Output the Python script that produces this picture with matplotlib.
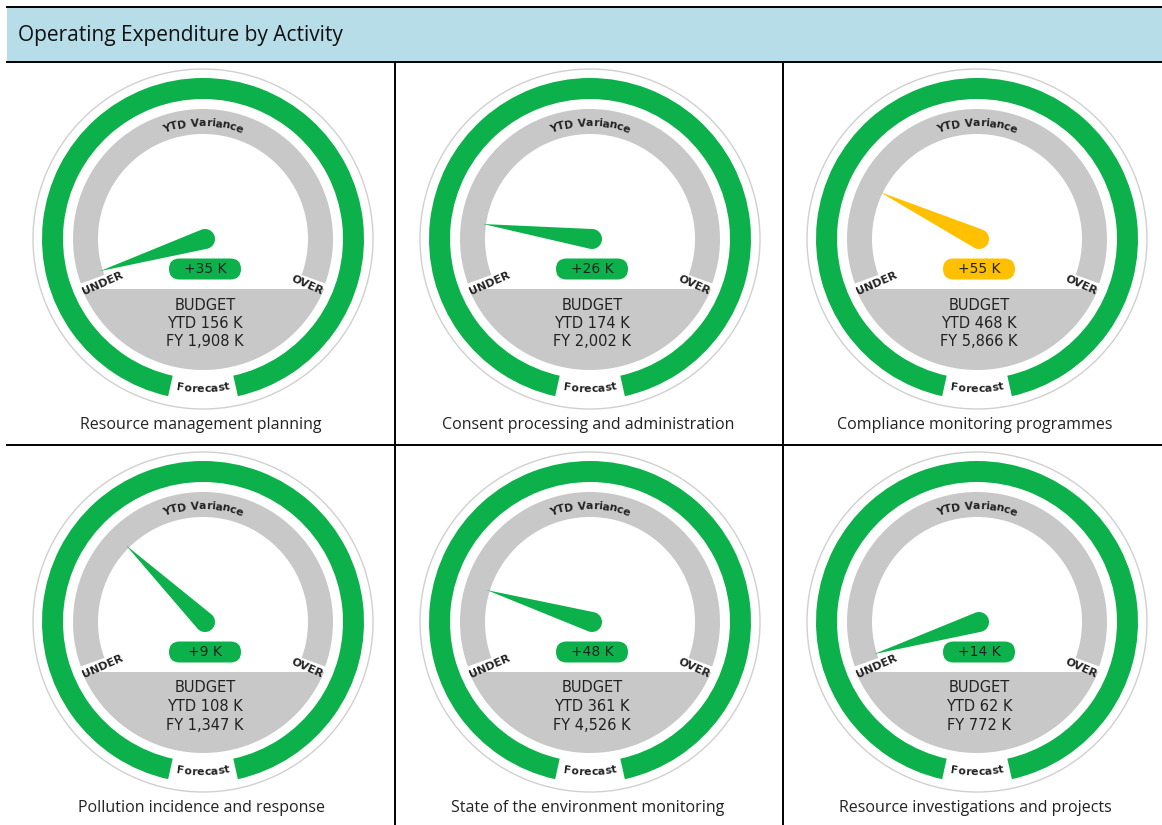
import numpy as np
import matplotlib
matplotlib.use("Agg")
import matplotlib.pyplot as plt
from matplotlib.patches import Wedge, Circle, Polygon, FancyBboxPatch, Rectangle
from matplotlib.font_manager import FontProperties, findfont, get_font

# data
title = "Operating Expenditure by Activity"
activities = [
    "Resource management planning",
    "Consent processing and administration",
    "Compliance monitoring programmes",
    "Pollution incidence and response",
    "State of the environment monitoring",
    "Resource investigations and projects",
]
variance_k = [35, 26, 55, 9, 48, 14]          # YTD variance, +ve = under budget
ytd_budget_k = [156, 174, 468, 108, 361, 62]
fy_budget_k = [1908, 2002, 5866, 1347, 4526, 772]
variance_status = ["ok", "ok", "warn", "ok", "ok", "ok"]
forecast_status = ["ok", "ok", "ok", "ok", "ok", "ok"]

W, H = 1162, 825
GREEN = "#0DB14B"
AMBER = "#FFC000"
GREY = "#C8C8C8"
TEXT = "#222222"
status_colour = {"ok": GREEN, "warn": AMBER}

col_x = [7, 395, 783, W]
row_y = [62, 445, H]
centres_x = [203, 590, 977]
centres_y = [239, 622]


def py(y):
    # reference pixel rows -> axes coordinates (y up)
    return H - y


def advances(s, fp):
    # glyph advance widths in pixels (dpi 100)
    font = get_font(findfont(fp))
    font.set_size(fp.get_size_in_points(), 72)
    out = []
    for ch in s:
        g = font.load_char(ord(ch))
        out.append(g.linearHoriAdvance / 65536 * 100 / 72)
    return np.array(out)


def curved_text(ax, cx, cy, s, r, mid, fp, top=True, track=0.0):
    widths = advances(s, fp) + track
    total = widths.sum() - track
    pos = np.cumsum(widths) - widths / 2 - track / 2
    for ch, x in zip(s, pos):
        off = (x - total / 2) / r
        if top:
            a = np.radians(mid) - off
            rot = np.degrees(a) - 90
        else:
            a = np.radians(mid) + off
            rot = np.degrees(a) - 270
        ax.text(cx + r * np.cos(a), cy + r * np.sin(a), ch, fontproperties=fp,
                color=TEXT, ha="center", va="center", rotation=rot,
                rotation_mode="anchor")


def needle(ax, cx, cy, ang, length, rad, colour):
    a = np.radians(ang)
    tip = np.array([cx + length * np.cos(a), cy + length * np.sin(a)])
    phi = np.arccos(rad / length)
    arc = np.linspace(a + phi, a + 2 * np.pi - phi, 40)
    pts = [tip] + [[cx + rad * np.cos(t), cy + rad * np.sin(t)] for t in arc]
    ax.add_patch(Polygon(pts, closed=True, color=colour, lw=0, zorder=4))


def gauge(ax, cx, cy, i):
    ax.add_patch(Circle((cx, cy), 170, fill=False, ec="#D0D0D0", lw=1.0))
    # forecast ring with a gap at the bottom
    ax.add_patch(Wedge((cx, cy), 161, 282.5, 617.5, width=21,
                       color=status_colour[forecast_status[i]], lw=0))
    # YTD variance scale
    ax.add_patch(Wedge((cx, cy), 130, -20, 200, width=25, color=GREY, lw=0))
    # budget segment
    r, chord = 131, 50
    a0 = np.degrees(np.arcsin(chord / r))
    t = np.radians(np.linspace(180 + a0, 360 - a0, 60))
    seg = np.column_stack([cx + r * np.cos(t), cy + r * np.sin(t)])
    ax.add_patch(Polygon(seg, closed=True, color=GREY, lw=0))

    pct = 100 * variance_k[i] / ytd_budget_k[i]
    ang = 90 + np.clip(110 * pct / 20, -107, 107)
    col = status_colour[variance_status[i]]
    needle(ax, cx + 2, cy, ang, 110, 10, col)

    ax.add_patch(FancyBboxPatch((cx - 34, cy - 40.5), 72, 21,
                                boxstyle="round,pad=0,rounding_size=10.5",
                                color=col, lw=0, zorder=5))
    ax.text(cx + 2, cy - 30, "+%d K" % variance_k[i], fontsize=10,
            color=TEXT, ha="center", va="center", zorder=6)

    lines = ["BUDGET", "YTD %d K" % ytd_budget_k[i],
             "FY {:,} K".format(fy_budget_k[i])]
    for k, s in enumerate(lines):
        ax.text(cx + 2, cy - 66 - 18.5 * k, s, fontsize=10.5, color=TEXT,
                ha="center", va="center")

    lab = FontProperties(family="DejaVu Sans", weight="bold", size=7.8)
    curved_text(ax, cx, cy, "YTD Variance", 116, 90, lab, top=True)
    curved_text(ax, cx, cy, "Forecast", 150, 270, lab, top=False)
    lab2 = FontProperties(family="DejaVu Sans", weight="bold", size=8)
    a = np.radians(204)
    ax.text(cx + 110 * np.cos(a), cy + 110 * np.sin(a), "UNDER",
            fontproperties=lab2, color=TEXT, ha="center", va="center",
            rotation=24, rotation_mode="anchor")
    a = np.radians(-24)
    ax.text(cx + 114 * np.cos(a), cy + 114 * np.sin(a), "OVER",
            fontproperties=lab2, color=TEXT, ha="center", va="center",
            rotation=-24, rotation_mode="anchor")


fig = plt.figure(figsize=(W / 100, H / 100), dpi=100)
ax = fig.add_axes([0, 0, 1, 1])
ax.set_xlim(0, W)
ax.set_ylim(0, H)
ax.axis("off")

# header band and table rules
ax.add_patch(Rectangle((7, py(62)), W - 7, 55, color="#B7DDE8", lw=0))
ax.text(18, py(35), title, family="Open Sans", fontsize=15,
        color="#111111", ha="left", va="center")
rule = dict(color="black", lw=1.4)
ax.plot([7, W], [py(7), py(7)], **rule)
ax.plot([7, W], [py(62), py(62)], **rule)
ax.plot([7, W], [py(445), py(445)], **rule)
for x in col_x[1:3]:
    ax.plot([x, x], [py(62), 0], **rule)

for i, name in enumerate(activities):
    r, c = divmod(i, 3)
    cx, cy = centres_x[c], py(centres_y[r])
    gauge(ax, cx, cy, i)
    ax.text(cx - 2, cy - 186, name, family="Open Sans", fontsize=11.5,
            color="#222222", ha="center", va="center")

fig.savefig("out.png", dpi=100)
